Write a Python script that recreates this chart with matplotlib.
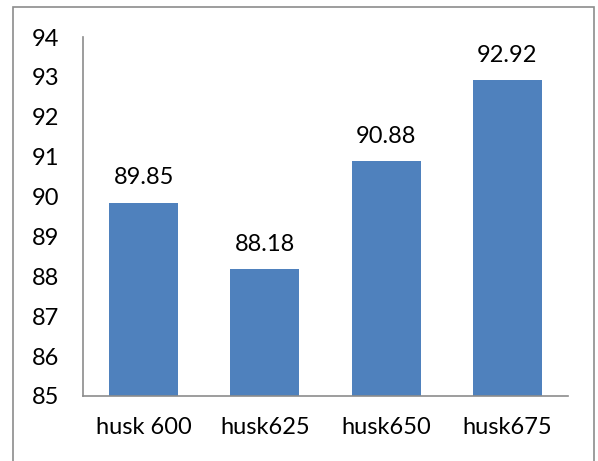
import matplotlib.pyplot as plt
from matplotlib.patches import Rectangle

# Datos
categories = ['husk 600', 'husk625', 'husk650', 'husk675']
values = [89.85, 88.18, 90.88, 92.92]

plt.rcParams['font.family'] = 'Lato'

fig = plt.figure(figsize=(5.98, 4.61), dpi=100)
ax = fig.add_axes([0.1388, 0.141, 0.811, 0.7787])

x = range(len(categories))
bars = ax.bar(x, values, width=0.57, color='#4F81BD', bottom=0)
ax.set_ylim(85, 94)
ax.set_xlim(-0.5, len(categories) - 0.5)
ax.set_yticks(range(85, 95))
ax.set_xticks(list(x))
ax.set_xticklabels(categories)

for xi, v in zip(x, values):
    ax.annotate(f'{v:.2f}', (xi, v), xytext=(0, 13), textcoords='offset points',
                ha='center', va='baseline', fontsize=17)

for s in ['top', 'right']:
    ax.spines[s].set_visible(False)
for s in ['left', 'bottom']:
    ax.spines[s].set_color('#8c8c8c')
    ax.spines[s].set_linewidth(1.2)
ax.tick_params(axis='both', length=0, labelsize=17)
ax.tick_params(axis='y', pad=17)
ax.tick_params(axis='x', pad=15)

# Marco exterior
fig.patches.append(Rectangle((13 / 598, -0.1), 581 / 598, 1.1 - 7 / 461,
                             transform=fig.transFigure, fill=False,
                             edgecolor='#8c8c8c', linewidth=1.2))

fig.savefig('out.png', dpi=100)
